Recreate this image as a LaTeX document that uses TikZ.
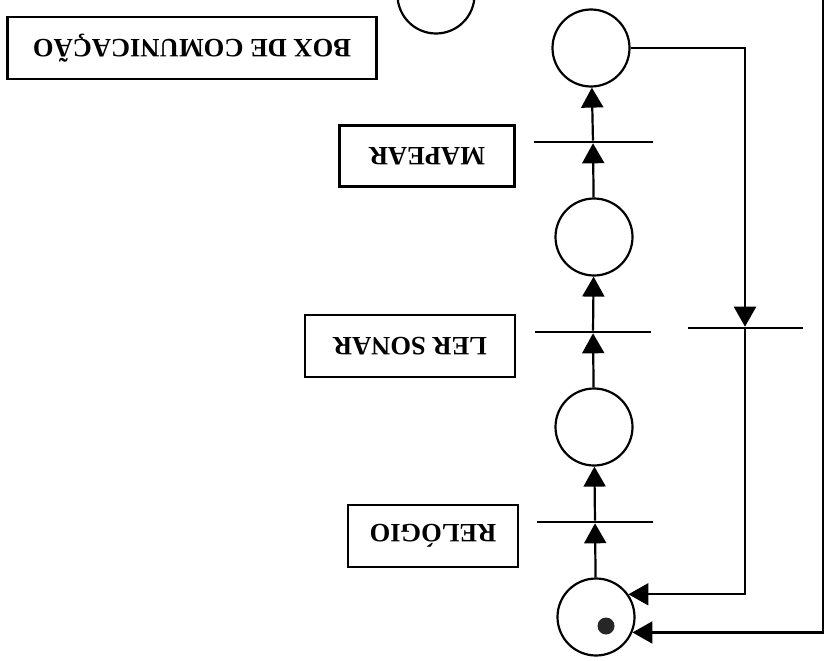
\documentclass[tikz,border=0pt]{standalone}
\usepackage{fontspec}
\setmainfont{Liberation Serif}
\usetikzlibrary{arrows.meta}
\begin{document}
\begin{tikzpicture}[x=1pt,y=-1pt,
  place/.style={circle, draw, line width=2.2pt, minimum size=77pt, inner sep=0pt},
  bar/.style={rectangle, fill=black, minimum height=2.2pt, inner sep=0pt, minimum width=#1},
  lab/.style={rectangle, draw, line width=2.2pt, rotate=180, inner sep=0pt,
              font=\fontsize{26.5}{30}\selectfont\bfseries},
  arr/.style={-{Triangle[width=22pt,length=20pt]}, line width=2.2pt},
  tok/.style={circle, fill=black!85, minimum size=17pt, inner sep=0pt}]
\useasboundingbox (0,0) rectangle (835,661);
\clip (0,0) rectangle (835,661);
% places
\node[place] (P0) at (436,-5) {};
\node[place] (P1) at (591,48) {};
\node[place] (P2) at (594,237) {};
\node[place] (P3) at (594,427) {};
\node[place] (P4) at (596,617) {};
\node[tok] (tk) at (606,626) {};
% transitions
\node[bar=119pt] (T1) at (593,142) {};
\node[bar=116pt] (T2) at (593,332) {};
\node[bar=116pt] (T3) at (595,522) {};
\node[bar=115pt] (T4) at (745,328) {};
% labels
\node[lab, minimum width=369pt, minimum height=62pt] (bc) at (192,48) {BOX DE COMUNICAÇÃO};
\node[lab, minimum width=175pt, minimum height=61pt] (mp) at (427,156) {MAPEAR};
\node[lab, minimum width=210pt, minimum height=62pt] (ls) at (410,346) {LER SONAR};
\node[lab, minimum width=170pt, minimum height=62pt] (rl) at (433,536) {RELÓGIO};
% main column
\draw[arr] (P4) -- (T3);
\draw[arr] (T3) -- (P3);
\draw[arr] (P3) -- (T2);
\draw[arr] (T2) -- (P2);
\draw[arr] (P2) -- (T1);
\draw[arr] (T1) -- (P1);
% right loop
\draw[arr] (P1) -| (T4);
\draw[arr] (T4) |- (P4.35);
% outer line
\coordinate (top) at (823,0);
\draw[arr] (top) |- (P4.-23);
\end{tikzpicture}
\end{document}
